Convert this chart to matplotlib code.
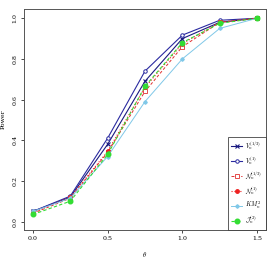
import matplotlib
matplotlib.use("Agg")
import matplotlib.pyplot as plt

plt.rcParams['font.family'] = ['DejaVu Serif']
plt.rcParams['mathtext.fontset'] = 'cm'

theta = [0.0, 0.25, 0.5, 0.75, 1.0, 1.25, 1.5]
v13 = [0.05, 0.12, 0.38, 0.69, 0.90, 0.98, 1.0]
v1 = [0.05, 0.125, 0.41, 0.74, 0.917, 0.99, 1.0]
n13 = [0.04, 0.115, 0.34, 0.64, 0.86, 0.98, 1.0]
n1 = [0.045, 0.12, 0.345, 0.66, 0.875, 0.98, 1.0]
km2 = [0.05, 0.115, 0.32, 0.59, 0.80, 0.95, 1.0]
j2 = [0.035, 0.10, 0.33, 0.665, 0.88, 0.975, 1.0]

labels = [r'$V_n^{(1/3)}$', r'$V_n^{(1)}$', r'$\mathcal{N}_n^{(1/3)}$',
          r'$\mathcal{N}_n^{(1)}$', r'$KM_n^2$', r'$\mathcal{J}_n^{(2)}$']

fig = plt.figure(figsize=(2.69, 2.60), dpi=100)
ax = fig.add_axes([0.089, 0.115, 0.9, 0.85])

ax.plot(theta, v13, color='#1a1a80', ls='-', lw=0.8, marker='x', ms=2.5, mew=0.8, label=labels[0])
ax.plot(theta, v1, color='#2a2aa0', ls='-', lw=0.8, marker='o', ms=2.5, mfc='white', mew=0.7, label=labels[1])
ax.plot(theta, n13, color='#e03030', ls=(0, (3, 2)), lw=0.7, marker='s', ms=2.5, mfc='white', mew=0.6, label=labels[2])
ax.plot(theta, n1, color='#ee2020', ls=':', lw=0.8, marker='o', ms=2.5, label=labels[3])
ax.plot(theta, km2, color='#80c8e8', ls='-', lw=0.7, marker='D', ms=1.8, label=labels[4])
ax.plot(theta, j2, color='#33dd33', ls=(0, (3, 2)), lw=0.8, marker='o', ms=3.3, label=labels[5])

ax.set_xlim(-0.06, 1.56)
ax.set_ylim(-0.042, 1.045)
ax.set_xticks([0.0, 0.5, 1.0, 1.5])
ax.set_yticks([0.0, 0.2, 0.4, 0.6, 0.8, 1.0])
ax.tick_params(labelsize=4.5, length=2.5, width=0.5, pad=2)
for lab in ax.get_yticklabels():
    lab.set_rotation(90)
    lab.set_va('center')
for s in ax.spines.values():
    s.set_linewidth(0.7)
    s.set_color('#555555')

ax.set_xlabel(r'$\theta$', fontsize=5, labelpad=6)
ax.set_ylabel('Power', fontsize=4.5, labelpad=5)

leg = ax.legend(loc='lower right', fontsize=4.5, frameon=True, fancybox=False,
                borderaxespad=0, handlelength=1.7, labelspacing=0.5,
                borderpad=0.6, handletextpad=0.5)
leg.get_frame().set_edgecolor('#333333')
leg.get_frame().set_linewidth(0.7)

fig.savefig('out.png', dpi=100)
